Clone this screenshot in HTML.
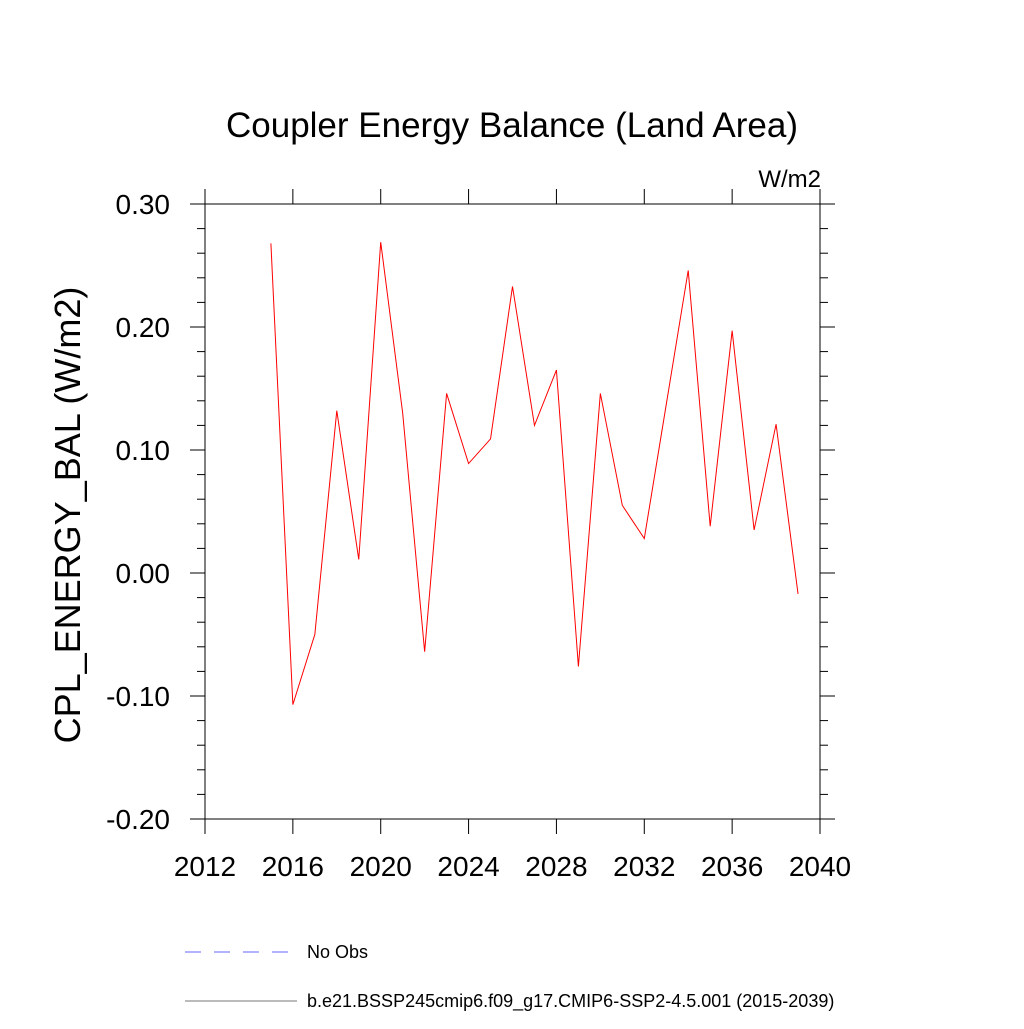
<!DOCTYPE html>
<html><head><meta charset="utf-8"><style>
html,body{margin:0;padding:0;background:#fff}
svg text{font-family:"Liberation Sans",Arial,sans-serif;fill:#000}
</style></head><body>
<svg width="1024" height="1024" viewBox="0 0 1024 1024">
<text x="512" y="137" font-size="35" text-anchor="middle">Coupler Energy Balance (Land Area)</text>
<text x="821" y="187" font-size="24" text-anchor="end">W/m2</text>
<text transform="translate(80,515) rotate(-90)" font-size="36" text-anchor="middle">CPL_ENERGY_BAL  (W/m2)</text>
<g id="axes"></g>
<polyline id="series" fill="none" stroke="#ff0000" stroke-width="1"/>
<line x1="185" y1="952" x2="292" y2="952" stroke="#6666ff" stroke-width="1" stroke-dasharray="16,13"/>
<text x="307" y="958" font-size="18">No Obs</text>
<line x1="185" y1="1001" x2="297" y2="1001" stroke="#777" stroke-width="1"/>
<text x="307" y="1007" font-size="18">b.e21.BSSP245cmip6.f09_g17.CMIP6-SSP2-4.5.001 (2015-2039)</text>
</svg>
<script>
const years=[2015,2016,2017,2018,2019,2020,2021,2022,2023,2024,2025,2026,2027,2028,2029,2030,2031,2032,2033,2034,2035,2036,2037,2038,2039];
const values=[0.268,-0.107,-0.050,0.132,0.011,0.269,0.130,-0.064,0.146,0.089,0.109,0.233,0.120,0.165,-0.076,0.146,0.055,0.028,0.137,0.246,0.038,0.197,0.035,0.121,-0.017];
const xTicks=[2012,2016,2020,2024,2028,2032,2036,2040];
const yTicks=[0.30,0.20,0.10,0.00,-0.10,-0.20];
const L=205,R=820,T=204,B=819;
const xs=y=>L+(y-2012)*(R-L)/28;
const ys=v=>T+(0.30-v)*(B-T)/0.5;
const NS='http://www.w3.org/2000/svg';
const g=document.getElementById('axes');
function ln(x1,y1,x2,y2,name){const l=document.createElementNS(NS,'line');l.setAttribute('x1',x1);l.setAttribute('y1',y1);l.setAttribute('x2',x2);l.setAttribute('y2',y2);l.setAttribute('stroke','#000');l.setAttribute('stroke-width','1');


g.appendChild(l);}
function tx(x,y,s,anchor,name){const t=document.createElementNS(NS,'text');t.setAttribute('x',x);t.setAttribute('y',y);t.setAttribute('font-size','28');t.setAttribute('text-anchor',anchor);t.textContent=s;


g.appendChild(t);}
const r=document.createElementNS(NS,'rect');r.setAttribute('x',L);r.setAttribute('y',T);r.setAttribute('width',R-L);r.setAttribute('height',B-T);r.setAttribute('fill','none');r.setAttribute('stroke','#000');


g.appendChild(r);
xTicks.forEach(y=>{const x=xs(y);ln(x,B,x,B+15,'x-tick');ln(x,T,x,T-15,'x-tick-top');tx(x,876,String(y),'middle','x-tick-label');});
yTicks.forEach(v=>{const y=ys(v);ln(L-15,y,L,y,'y-tick');ln(R,y,R+15,y,'y-tick-right');tx(L-35,y+10,v.toFixed(2),'end','y-tick-label');});
for(let i=0;i<=25;i++){const v=0.30-i*0.02;if(i%5===0)continue;const y=ys(v);ln(L-8,y,L,y,'y-minor-tick');ln(R,y,R+8,y,'y-minor-tick-right');}
document.getElementById('series').setAttribute('points',years.map((y,i)=>xs(y)+','+ys(values[i])).join(' '));
</script>
</body></html>
